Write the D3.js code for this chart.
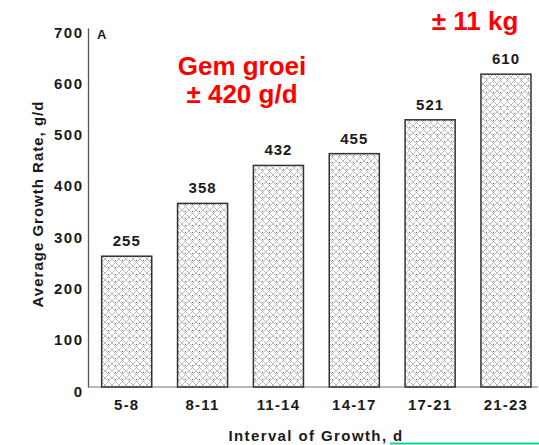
<!DOCTYPE html>
<html>
<head>
<meta charset="utf-8">
<script src="https://cdn.jsdelivr.net/npm/d3@7"></script>
<style>
  html, body { margin: 0; padding: 0; background: #fff; }
  svg { display: block; font-family: "Liberation Sans", Arial, Helvetica, sans-serif; }
</style>
</head>
<body>
<svg id="chart" width="539" height="445"></svg>
<script>
const categories = ["5-8", "8-11", "11-14", "14-17", "17-21", "21-23"];
const growthRates = [255, 358, 432, 455, 521, 610];
const yTicks = [0, 100, 200, 300, 400, 500, 600, 700];
const yTitle = "Average Growth Rate, g/d";
const xTitle = "Interval of Growth, d";
const panelLabel = "A";
const noteLines = ["Gem groei", "± 420 g/d"];
const noteWeight = "± 11 kg";

const svg = d3.select("#chart");

const x = d3.scaleBand()
  .domain(categories)
  .range([88.8, 543.9])
  .paddingInner(0.34)
  .paddingOuter(0.17);

const y = d3.scaleLinear()
  .domain([0, 700])
  .range([387, 28]);

// crosshatch pattern
const defs = svg.append("defs");
const pat = defs.append("pattern")
  .attr("id", "hatch")
  .attr("patternUnits", "userSpaceOnUse")
  .attr("width", 7).attr("height", 7);
pat.append("rect").attr("width", 7).attr("height", 7).attr("fill", "#fff");
pat.append("path")
  .attr("d", "M0,0 L7,7 M7,0 L0,7 M-1,6 L1,8 M6,-1 L8,1 M-1,1 L1,-1 M6,8 L8,6")
  .attr("stroke", "#9a9a9a").attr("stroke-width", 0.65).attr("fill", "none");
pat.append("circle").attr("cx", 3.5).attr("cy", 1.3).attr("r", 0.65).attr("fill", "#555");

// Y axis
const yAxis = svg.append("g")
  .attr("transform", "translate(88,0)")
  .call(d3.axisLeft(y).tickValues(yTicks).tickSize(0).tickSizeOuter(0).tickPadding(4.5));
yAxis.select(".domain").attr("stroke", "#555").attr("stroke-width", 1.3);
yAxis.selectAll("text")
  .attr("dy", "0.6em")
  .attr("fill", "#1a1a1a")
  .style("font-size", "15px")
  .style("font-weight", "bold")
  .style("letter-spacing", "1.5px")
  .style("font-family", "'Liberation Sans', Arial, sans-serif");

// X axis
const xAxis = svg.append("g")
  .attr("transform", `translate(0,${y(0)})`)
  .call(d3.axisBottom(x).tickSize(0).tickPadding(12.5));
xAxis.select(".domain").remove();
xAxis.selectAll("text")
  .attr("fill", "#1a1a1a")
  .style("font-size", "15px")
  .style("font-weight", "bold")
  .style("letter-spacing", "1.2px")
  .style("font-family", "'Liberation Sans', Arial, sans-serif");
svg.append("line")
  .attr("x1", 88).attr("x2", 538)
  .attr("y1", y(0)).attr("y2", y(0))
  .attr("stroke", "#777").attr("stroke-width", 1.2);

// bars
svg.append("g").selectAll("rect")
  .data(categories)
  .join("rect")
  .attr("x", d => x(d))
  .attr("y", (d, i) => y(growthRates[i]))
  .attr("width", x.bandwidth())
  .attr("height", (d, i) => y(0) - y(growthRates[i]))
  .attr("fill", "url(#hatch)")
  .attr("stroke", "#333")
  .attr("stroke-width", 1.5);

// value labels
svg.append("g").selectAll("text")
  .data(categories)
  .join("text")
  .attr("x", d => x(d) + x.bandwidth() / 2)
  .attr("y", (d, i) => y(growthRates[i]) - 10)
  .attr("text-anchor", "middle")
  .attr("fill", "#1a1a1a")
  .style("font-size", "15px")
  .style("font-weight", "bold")
  .style("letter-spacing", "1px")
  .text((d, i) => growthRates[i]);

// axis titles
svg.append("text")
  .attr("transform", "translate(43,204) rotate(-90)")
  .attr("text-anchor", "middle")
  .attr("fill", "#1a1a1a")
  .style("font-size", "15px")
  .style("font-weight", "bold")
  .style("letter-spacing", "1px")
  .text(yTitle);

svg.append("text")
  .attr("x", 316).attr("y", 441)
  .attr("text-anchor", "middle")
  .attr("fill", "#1a1a1a")
  .style("font-size", "15px")
  .style("font-weight", "bold")
  .style("letter-spacing", "1.4px")
  .text(xTitle);

// panel label
svg.append("text")
  .attr("x", 97).attr("y", 39)
  .attr("fill", "#1a1a1a")
  .style("font-size", "13px")
  .style("font-weight", "bold")
  .text(panelLabel);

// red annotations
svg.append("g").selectAll("text")
  .data(noteLines)
  .join("text")
  .attr("x", 242)
  .attr("y", (d, i) => 75 + i * 28)
  .attr("text-anchor", "middle")
  .attr("fill", "#ff0000")
  .style("font-size", "26px")
  .style("font-weight", "bold")
  .text(d => d);

svg.append("text")
  .attr("x", 475).attr("y", 30)
  .attr("text-anchor", "middle")
  .attr("fill", "#ff0000")
  .style("font-size", "26px")
  .style("font-weight", "bold")
  .text(noteWeight);

// teal underline at bottom
svg.append("line")
  .attr("x1", 390).attr("x2", 539)
  .attr("y1", 443.5).attr("y2", 443.5)
  .attr("stroke", "#22cc99").attr("stroke-width", 2);
</script>
</body>
</html>
